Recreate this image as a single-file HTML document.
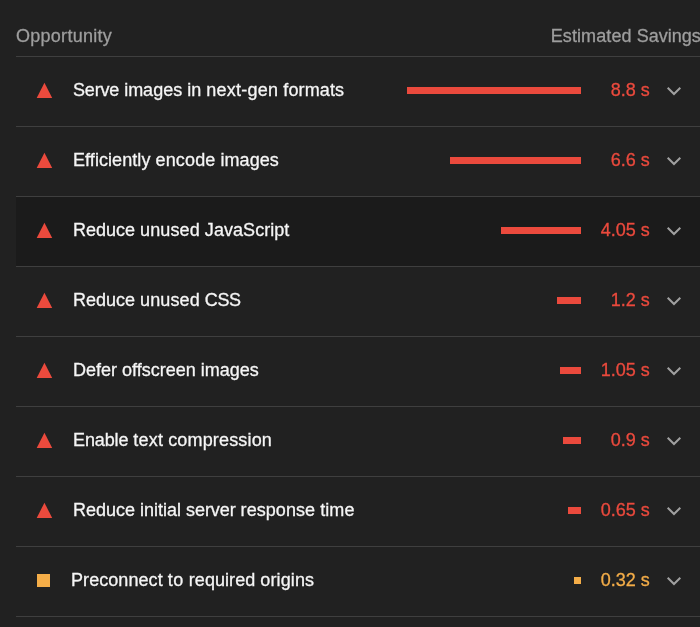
<!DOCTYPE html>
<html><head><meta charset="utf-8"><title>Opportunities</title>
<style>
html,body{margin:0;padding:0;}
body{width:700px;height:627px;overflow:hidden;background:#212121;font-family:"Liberation Sans",Arial,sans-serif;font-size:18px;position:relative;color:#f5f5f5;-webkit-text-stroke:0.3px currentColor;}
.hdr{position:absolute;top:25px;height:22px;line-height:22px;color:#9e9e9e;white-space:nowrap;}
.line{position:absolute;left:16px;right:0;height:1px;background:#3f3f3f;}
.row{position:absolute;left:16px;right:0;height:69px;}
.row.hover{background:#1b1b1b;}
.tri{position:absolute;left:20px;top:25px;width:17px;height:17px;}
.sq{position:absolute;left:21px;top:27px;width:13px;height:13px;background:#f4ad48;}
.title{position:absolute;left:57px;top:22px;height:22px;line-height:22px;white-space:nowrap;color:#f5f5f5;}
.bar{position:absolute;top:30px;height:7px;background:#eb4a3d;}
.bar.o{background:#f4ad48;}
.val{position:absolute;right:50.3px;top:22px;height:22px;line-height:22px;white-space:nowrap;color:#eb4a3d;text-align:right;}
.val.o{color:#f4ad48;}
.chev{position:absolute;left:650px;top:29px;width:16px;height:10px;}
</style></head><body>
<div class="hdr" style="left:16px;letter-spacing:0.27px">Opportunity</div>
<div class="hdr" style="left:550.7px;letter-spacing:0.1px">Estimated <span style="letter-spacing:-0.02px">Savings</span></div>
<div class="line" style="top:56px"></div>
<div class="row" style="top:57px"><svg class="tri" viewBox="0 0 17 17"><polygon points="0.7,16 16.2,16 8.45,0.7" fill="#eb4a3d"/></svg><div class="title" style="left:57px;letter-spacing:0px"><span style="letter-spacing:-0.18px">Serve</span> images in <span style="letter-spacing:0.25px">next-gen</span> <span style="letter-spacing:0.13px">formats</span></div><div class="bar" style="left:391px;width:174px"></div><div class="val">8.8 s</div><svg class="chev" viewBox="0 0 16 10"><path d="M1.7 1.7 L8 8 L14.3 1.7" fill="none" stroke="#a0a0a0" stroke-width="2"/></svg></div>
<div class="line" style="top:126px"></div>
<div class="row" style="top:127px"><svg class="tri" viewBox="0 0 17 17"><polygon points="0.7,16 16.2,16 8.45,0.7" fill="#eb4a3d"/></svg><div class="title" style="left:57px;letter-spacing:0px"><span style="letter-spacing:0.07px">Efficiently</span> <span style="letter-spacing:0.15px">encode</span> <span style="letter-spacing:0.07px">images</span></div><div class="bar" style="left:434px;width:131px"></div><div class="val">6.6 s</div><svg class="chev" viewBox="0 0 16 10"><path d="M1.7 1.7 L8 8 L14.3 1.7" fill="none" stroke="#a0a0a0" stroke-width="2"/></svg></div>
<div class="line" style="top:196px"></div>
<div class="row hover" style="top:197px"><svg class="tri" viewBox="0 0 17 17"><polygon points="0.7,16 16.2,16 8.45,0.7" fill="#eb4a3d"/></svg><div class="title" style="left:57px;letter-spacing:0px">Reduce <span style="letter-spacing:0.12px">unused</span> <span style="letter-spacing:0.055px">JavaScript</span></div><div class="bar" style="left:485px;width:80px"></div><div class="val">4.05 s</div><svg class="chev" viewBox="0 0 16 10"><path d="M1.7 1.7 L8 8 L14.3 1.7" fill="none" stroke="#a0a0a0" stroke-width="2"/></svg></div>
<div class="line" style="top:266px"></div>
<div class="row" style="top:267px"><svg class="tri" viewBox="0 0 17 17"><polygon points="0.7,16 16.2,16 8.45,0.7" fill="#eb4a3d"/></svg><div class="title" style="left:57px;letter-spacing:0px">Reduce <span style="letter-spacing:0.12px">unused</span> <span style="letter-spacing:-0.4px">CSS</span></div><div class="bar" style="left:541px;width:24px"></div><div class="val">1.2 s</div><svg class="chev" viewBox="0 0 16 10"><path d="M1.7 1.7 L8 8 L14.3 1.7" fill="none" stroke="#a0a0a0" stroke-width="2"/></svg></div>
<div class="line" style="top:336px"></div>
<div class="row" style="top:337px"><svg class="tri" viewBox="0 0 17 17"><polygon points="0.7,16 16.2,16 8.45,0.7" fill="#eb4a3d"/></svg><div class="title" style="left:57px;letter-spacing:0px">Defer offscreen images</div><div class="bar" style="left:544px;width:21px"></div><div class="val">1.05 s</div><svg class="chev" viewBox="0 0 16 10"><path d="M1.7 1.7 L8 8 L14.3 1.7" fill="none" stroke="#a0a0a0" stroke-width="2"/></svg></div>
<div class="line" style="top:406px"></div>
<div class="row" style="top:407px"><svg class="tri" viewBox="0 0 17 17"><polygon points="0.7,16 16.2,16 8.45,0.7" fill="#eb4a3d"/></svg><div class="title" style="left:57px;letter-spacing:0px"><span style="letter-spacing:-0.13px">Enable</span> <span style="letter-spacing:0.2px">text</span> <span style="letter-spacing:0.17px">compression</span></div><div class="bar" style="left:547px;width:18px"></div><div class="val">0.9 s</div><svg class="chev" viewBox="0 0 16 10"><path d="M1.7 1.7 L8 8 L14.3 1.7" fill="none" stroke="#a0a0a0" stroke-width="2"/></svg></div>
<div class="line" style="top:476px"></div>
<div class="row" style="top:477px"><svg class="tri" viewBox="0 0 17 17"><polygon points="0.7,16 16.2,16 8.45,0.7" fill="#eb4a3d"/></svg><div class="title" style="left:57px;letter-spacing:0px">Reduce initial <span style="letter-spacing:-0.08px">server</span> <span style="letter-spacing:0.06px">response</span> <span style="letter-spacing:0.1px">time</span></div><div class="bar" style="left:552px;width:13px"></div><div class="val">0.65 s</div><svg class="chev" viewBox="0 0 16 10"><path d="M1.7 1.7 L8 8 L14.3 1.7" fill="none" stroke="#a0a0a0" stroke-width="2"/></svg></div>
<div class="line" style="top:546px"></div>
<div class="row" style="top:547px"><div class="sq"></div><div class="title" style="left:55px;letter-spacing:0px"><span style="letter-spacing:0.07px">Preconnect</span> <span style="letter-spacing:0.5px">to</span> <span style="letter-spacing:0.05px">required</span> <span style="letter-spacing:0.12px">origins</span></div><div class="bar o" style="left:558px;width:7px"></div><div class="val o">0.32 s</div><svg class="chev" viewBox="0 0 16 10"><path d="M1.7 1.7 L8 8 L14.3 1.7" fill="none" stroke="#a0a0a0" stroke-width="2"/></svg></div>
<div class="line" style="top:616px"></div>
</body></html>
